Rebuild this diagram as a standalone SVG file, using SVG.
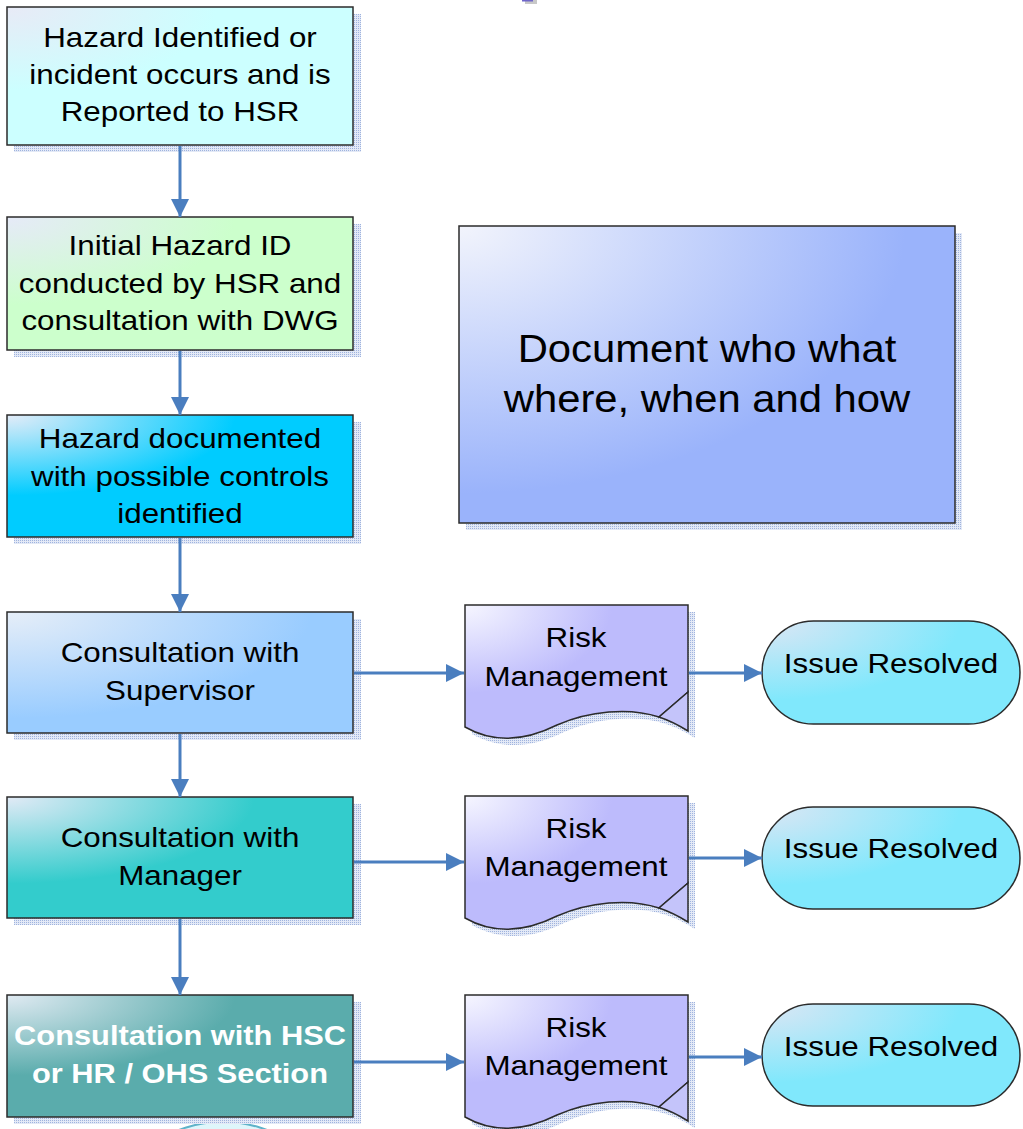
<svg xmlns="http://www.w3.org/2000/svg" width="1023" height="1129" viewBox="0 0 1023 1129">
  <style>
    .lbl { font-family: "Liberation Sans", Arial, sans-serif; font-size: 28px; fill: #000; text-anchor: middle; }
    .big { font-family: "Liberation Sans", Arial, sans-serif; font-size: 38px; fill: #000; text-anchor: middle; }
    .bold { font-weight: bold; fill: #fff; }
    .box { stroke: #2b2b2b; stroke-width: 1.5; }
    .shadow { fill: url(#hatch); }
    .wire { stroke: #4a7ebf; stroke-width: 3; fill: none; marker-end: url(#head); }
  </style>
  <defs>
    <pattern id="hatch" width="2" height="2" patternUnits="userSpaceOnUse">
      <rect width="2" height="2" fill="#e3e9f6"/>
      <rect width="1" height="1" fill="#9fb3de"/>
    </pattern>
    <marker id="head" viewBox="0 0 18 18" refX="18" refY="9" markerWidth="18" markerHeight="18" markerUnits="userSpaceOnUse" orient="auto">
      <path d="M0,0 L18,9 L0,18 Z" fill="#4a7ebf"/>
    </marker>
    <radialGradient id="gCyanPale" cx="0" cy="0" r="1.1">
      <stop offset="0" stop-color="#e8eaf6"/>
      <stop offset="0.55" stop-color="#ccffff"/>
    </radialGradient>
    <radialGradient id="gGreen" cx="0" cy="0" r="1.1">
      <stop offset="0" stop-color="#e6eaf8"/>
      <stop offset="0.6" stop-color="#ccffcc"/>
    </radialGradient>
    <radialGradient id="gCyan" cx="0" cy="0" r="1.1">
      <stop offset="0" stop-color="#e4ecf8"/>
      <stop offset="0.6" stop-color="#00ccff"/>
    </radialGradient>
    <radialGradient id="gSky" cx="0" cy="0" r="1.1">
      <stop offset="0" stop-color="#e6eef8"/>
      <stop offset="0.8" stop-color="#99ccff"/>
    </radialGradient>
    <radialGradient id="gTeal" cx="0" cy="0" r="1.1">
      <stop offset="0" stop-color="#e2eaf6"/>
      <stop offset="0.65" stop-color="#33cccc"/>
    </radialGradient>
    <radialGradient id="gDeepTeal" cx="0" cy="0" r="1.1">
      <stop offset="0" stop-color="#e0eaf2"/>
      <stop offset="0.6" stop-color="#5aacac"/>
    </radialGradient>
    <radialGradient id="gBlue" cx="0" cy="0" r="1.2">
      <stop offset="0" stop-color="#f2f4fc"/>
      <stop offset="0.75" stop-color="#9ab3fb"/>
    </radialGradient>
    <radialGradient id="gLav" cx="0" cy="0" r="1.1">
      <stop offset="0" stop-color="#f6f6ff"/>
      <stop offset="0.6" stop-color="#bdbbfc"/>
    </radialGradient>
    <radialGradient id="gTerm" cx="0" cy="0" r="1.1">
      <stop offset="0" stop-color="#dde6f4"/>
      <stop offset="0.7" stop-color="#80e8fc"/>
    </radialGradient>
    <!-- document shape with curled lower-right corner -->
    <path id="docBody" d="M0,0 H223 V87 L194,112 C164,102 124,106 92,120 C60,136 28,138 0,122 Z"/>
    <path id="docFlap" d="M223,87 L194,112 C206,116 215,121 223,126 Z"/>
    <path id="docShadow" d="M0,0 H223 V126 C215,121 206,116 194,112 C164,102 124,106 92,120 C60,136 28,138 0,122 Z"/>
  </defs>

  <rect width="1023" height="1129" fill="#fff"/>

  <!-- fragments at the page edges -->
  <g id="edge-top">
    <rect x="525" y="0" width="12" height="4" fill="#c8c8c8"/>
    <rect x="522" y="0" width="11" height="1.5" fill="#6f66c9"/>
  </g>
  <g id="edge-bottom">
    <ellipse cx="223" cy="1200" rx="100" ry="78" fill="#dff6fb" stroke="#5fb3c9" stroke-width="2"/>
  </g>

  <!-- process steps -->
  <g id="step-reported">
    <rect class="shadow" x="14" y="14" width="347" height="138"/>
    <rect class="box" x="7" y="7" width="346" height="138" fill="url(#gCyanPale)"/>
    <text class="lbl" transform="matrix(1.12 0 0 1 180 0)" x="0" y="47">Hazard Identified or</text>
    <text class="lbl" transform="matrix(1.12 0 0 1 180 0)" x="0" y="84">incident occurs and is</text>
    <text class="lbl" transform="matrix(1.12 0 0 1 180 0)" x="0" y="121">Reported to HSR</text>
  </g>

  <g id="step-initial-id">
    <rect class="shadow" x="14" y="224" width="347" height="133"/>
    <rect class="box" x="7" y="217" width="346" height="133" fill="url(#gGreen)"/>
    <text class="lbl" transform="matrix(1.12 0 0 1 180 0)" x="0" y="255">Initial Hazard ID</text>
    <text class="lbl" transform="matrix(1.12 0 0 1 180 0)" x="0" y="293">conducted by HSR and</text>
    <text class="lbl" transform="matrix(1.12 0 0 1 180 0)" x="0" y="330">consultation with DWG</text>
  </g>

  <g id="step-documented">
    <rect class="shadow" x="14" y="422" width="347" height="122"/>
    <rect class="box" x="7" y="415" width="346" height="122" fill="url(#gCyan)"/>
    <text class="lbl" transform="matrix(1.12 0 0 1 180 0)" x="0" y="448">Hazard documented</text>
    <text class="lbl" transform="matrix(1.12 0 0 1 180 0)" x="0" y="486">with possible controls</text>
    <text class="lbl" transform="matrix(1.12 0 0 1 180 0)" x="0" y="523">identified</text>
  </g>

  <g id="step-supervisor">
    <rect class="shadow" x="14" y="619" width="347" height="121"/>
    <rect class="box" x="7" y="612" width="346" height="121" fill="url(#gSky)"/>
    <text class="lbl" transform="matrix(1.12 0 0 1 180 0)" x="0" y="662">Consultation with</text>
    <text class="lbl" transform="matrix(1.12 0 0 1 180 0)" x="0" y="700">Supervisor</text>
  </g>

  <g id="step-manager">
    <rect class="shadow" x="14" y="804" width="347" height="121"/>
    <rect class="box" x="7" y="797" width="346" height="121" fill="url(#gTeal)"/>
    <text class="lbl" transform="matrix(1.12 0 0 1 180 0)" x="0" y="847">Consultation with</text>
    <text class="lbl" transform="matrix(1.12 0 0 1 180 0)" x="0" y="885">Manager</text>
  </g>

  <g id="step-hsc">
    <rect class="shadow" x="14" y="1002" width="347" height="122"/>
    <rect class="box" x="7" y="995" width="346" height="122" fill="url(#gDeepTeal)"/>
    <text class="lbl bold" transform="matrix(1.1 0 0 1 180 0)" x="0" y="1045">Consultation with HSC</text>
    <text class="lbl bold" transform="matrix(1.1 0 0 1 180 0)" x="0" y="1083">or HR / OHS Section</text>
  </g>

  <!-- note -->
  <g id="note-document">
    <rect class="shadow" x="466" y="233" width="496" height="297"/>
    <rect class="box" x="459" y="226" width="496" height="297" fill="url(#gBlue)"/>
    <text class="big" transform="matrix(1.1 0 0 1 707 0)" x="0" y="362">Document who what</text>
    <text class="big" transform="matrix(1.1 0 0 1 707 0)" x="0" y="412">where, when and how</text>
  </g>

  <!-- risk management documents -->
  <g id="risk-1" transform="translate(465 605)">
    <use href="#docShadow" class="shadow" x="7" y="7"/>
    <use href="#docBody" class="box" fill="url(#gLav)"/>
    <use href="#docFlap" class="box" fill="#c4c4fa"/>
    <text class="lbl" transform="matrix(1.12 0 0 1 111 0)" x="0" y="42">Risk</text>
    <text class="lbl" transform="matrix(1.12 0 0 1 111 0)" x="0" y="81">Management</text>
  </g>
  <g id="risk-2" transform="translate(465 796)">
    <use href="#docShadow" class="shadow" x="7" y="7"/>
    <use href="#docBody" class="box" fill="url(#gLav)"/>
    <use href="#docFlap" class="box" fill="#c4c4fa"/>
    <text class="lbl" transform="matrix(1.12 0 0 1 111 0)" x="0" y="42">Risk</text>
    <text class="lbl" transform="matrix(1.12 0 0 1 111 0)" x="0" y="80">Management</text>
  </g>
  <g id="risk-3" transform="translate(465 995)">
    <use href="#docShadow" class="shadow" x="7" y="7"/>
    <use href="#docBody" class="box" fill="url(#gLav)"/>
    <use href="#docFlap" class="box" fill="#c4c4fa"/>
    <text class="lbl" transform="matrix(1.12 0 0 1 111 0)" x="0" y="42">Risk</text>
    <text class="lbl" transform="matrix(1.12 0 0 1 111 0)" x="0" y="80">Management</text>
  </g>

  <!-- outcomes -->
  <g id="resolved-1">
    <rect class="box" x="762" y="621" width="258" height="103" rx="51.5" fill="url(#gTerm)"/>
    <text class="lbl" transform="matrix(1.12 0 0 1 891 0)" x="0" y="673">Issue Resolved</text>
  </g>
  <g id="resolved-2">
    <rect class="box" x="762" y="807" width="258" height="102" rx="51" fill="url(#gTerm)"/>
    <text class="lbl" transform="matrix(1.12 0 0 1 891 0)" x="0" y="858">Issue Resolved</text>
  </g>
  <g id="resolved-3">
    <rect class="box" x="762" y="1004" width="258" height="102" rx="51" fill="url(#gTerm)"/>
    <text class="lbl" transform="matrix(1.12 0 0 1 891 0)" x="0" y="1056">Issue Resolved</text>
  </g>

  <!-- connectors, drawn over the node shadows -->
  <g id="connectors">
    <line class="wire" x1="180" y1="146" x2="180" y2="217"/>
    <line class="wire" x1="180" y1="351" x2="180" y2="415"/>
    <line class="wire" x1="180" y1="538" x2="180" y2="612"/>
    <line class="wire" x1="180" y1="734" x2="180" y2="797"/>
    <line class="wire" x1="180" y1="919" x2="180" y2="995"/>
    <line class="wire" x1="354" y1="673" x2="464" y2="673"/>
    <line class="wire" x1="689" y1="673" x2="762" y2="673"/>
    <line class="wire" x1="354" y1="862" x2="464" y2="862"/>
    <line class="wire" x1="689" y1="858" x2="762" y2="858"/>
    <line class="wire" x1="354" y1="1062" x2="464" y2="1062"/>
    <line class="wire" x1="689" y1="1057" x2="762" y2="1057"/>
  </g>
</svg>
